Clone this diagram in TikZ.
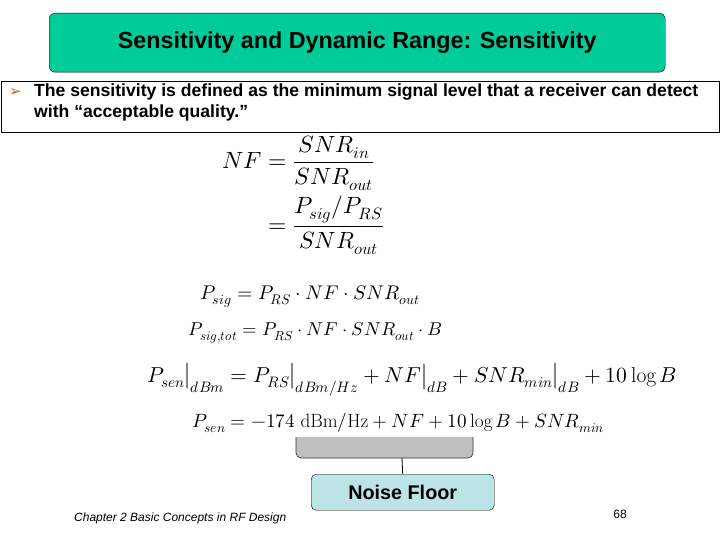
\documentclass[tikz,border=0pt]{standalone}
\usepackage{fontspec}
\setmainfont{Liberation Sans}
\newfontfamily\dejavu{DejaVu Sans}
\usepackage{amsmath}
\usepackage{unicode-math}
\setmathfont{Latin Modern Math}
\setmathrm{Latin Modern Roman}
\newcommand{\upt}[1]{\mathrm{#1}}
\newcommand{\fs}[1]{\fontsize{#1}{#1}\selectfont}
\definecolor{titlegreen}{HTML}{00CC99}
\definecolor{floorblue}{HTML}{BCE3E6}
\definecolor{bulletred}{HTML}{E8501A}
\tikzset{
  eq/.style={inner sep=0pt, anchor=west},
  ftext/.style={inner sep=0pt},
}
\begin{document}
\begin{tikzpicture}[x=1pt,y=-1pt]
\useasboundingbox (0,0) rectangle (720,540);
\node[draw=black, fill=titlegreen, rounded corners=6pt, minimum width=616pt, minimum height=59pt, anchor=north west] (title) at (49,13) {\fs{23.3}\bfseries Sensitivity and Dynamic Range: Sensitivity};
\node[draw=black, line width=1.2pt, minimum width=718pt, minimum height=51pt, anchor=north west, inner sep=0pt] (defbox) at (1,81) {};
\node[inner sep=0pt, anchor=west, text=bulletred] (bul) at (9,93) {\fs{15}\dejavu\symbol{"27A2}};
\node[inner sep=0pt, anchor=north west, align=left, font=\fontsize{17.6}{21}\selectfont\bfseries] (deftext) at (34,84) {The sensitivity is defined as the minimum signal level that a receiver can detect\\with “acceptable quality.”};
\node[eq] (e1) at (222,195) {\fs{23.5}$\begin{aligned} NF &= \dfrac{SNR_{in}}{SNR_{out}}\\[2pt] &= \dfrac{P_{sig}/P_{RS}}{SNR_{out}}\end{aligned}$};
\node[eq] (e2) at (200,296) {\fs{19.8}$P_{sig}=P_{RS}\cdot NF\cdot SNR_{out}$};
\node[eq] (e3) at (188,333) {\fs{18.6}$P_{sig,tot}=P_{RS}\cdot NF\cdot SNR_{out}\cdot B$};
\node[eq] (e4) at (147,380) {\fs{21.6}$P_{sen}\big|_{dBm}=P_{RS}\big|_{dBm/Hz}+NF\big|_{dB}+SNR_{min}\big|_{dB}+10\log B$};
\node[eq] (e5) at (192,423) {\fs{19.2}$P_{sen}=-174\ \upt{dBm/Hz}+NF+10\log B+SNR_{min}$};
\draw[fill=black!25, draw=black!80, line width=0.6pt] (296,437) -- (296,453) to[out=-90,in=180] (301,458) -- (468,458) to[out=0,in=-90] (473,453) -- (473,437);
\coordinate (brk) at (402,458);
\node[draw=black, fill=floorblue, rounded corners=5pt, minimum width=183pt, minimum height=36pt, anchor=north west] (floor) at (311,474) {\fs{19.8}\bfseries Noise Floor};
\draw[line width=0.8pt] (brk) -- (floor.north);
\node[ftext, anchor=west] (foot) at (74,518) {\fs{12}\itshape Chapter 2 Basic Concepts in RF Design};
\node[ftext] (pg) at (620,514) {\fs{12}68};
\end{tikzpicture}
\end{document}
